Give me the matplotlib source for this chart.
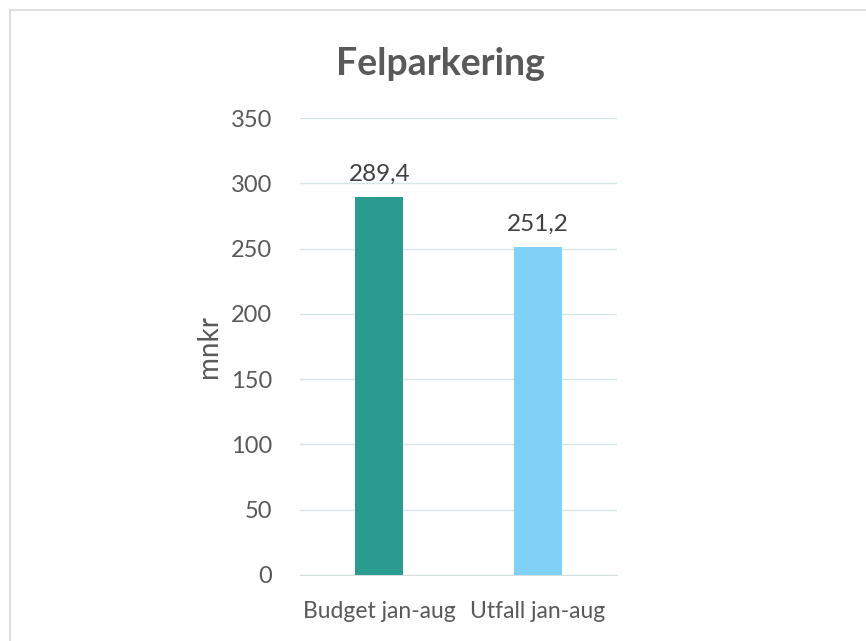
import matplotlib.pyplot as plt
from matplotlib.lines import Line2D

# chart data
categories = ['Budget jan-aug', 'Utfall jan-aug']
values = [289.4, 251.2]
value_labels = ['289,4', '251,2']
bar_colors = ['#2a9b8e', '#80d1f8']
yticks = [0, 50, 100, 150, 200, 250, 300, 350]

plt.rcParams['font.family'] = ['Lato', 'DejaVu Sans']
text_gray = '#595959'

fig = plt.figure(figsize=(8.66, 6.41), dpi=100)
ax = fig.add_axes([0.3464, 0.1030, 0.3661, 0.7129])

x = list(range(len(categories)))
ax.bar(x, values, width=0.30, color=bar_colors, zorder=3)

for xi, v, lab in zip(x, values, value_labels):
    ax.annotate(lab, (xi, v), xytext=(0, 9), textcoords='offset points',
                ha='center', va='bottom', fontsize=17.5, color='#404040')

ax.set_xlim(-0.5, 1.5)
ax.set_ylim(0, 350)
ax.set_yticks(yticks)
ax.set_yticklabels([str(t) for t in yticks])
ax.set_xticks(x)
ax.set_xticklabels(categories)
ax.tick_params(axis='both', length=0, colors=text_gray)
ax.tick_params(axis='y', pad=20, labelsize=17)
ax.tick_params(axis='x', pad=19, labelsize=16.5)

ax.grid(axis='y', color='#d6e6e8', linewidth=1, zorder=0)
for side in ['top', 'right', 'left']:
    ax.spines[side].set_visible(False)
ax.spines['bottom'].set_color('#d6dede')

ax.set_ylabel('mnkr', fontsize=20, color=text_gray, labelpad=6)

fig.text(0.509, 0.900, 'Felparkering', ha='center', va='center',
         fontsize=27, fontweight='bold', color=text_gray)

# outer chart frame (only top and left edges fall inside the image)
fig.add_artist(Line2D([0.0115, 0.0115], [0, 0.985], color='#d9d9d9', linewidth=1.2,
                      transform=fig.transFigure))
fig.add_artist(Line2D([0.0115, 1], [0.985, 0.985], color='#d9d9d9', linewidth=1.2,
                      transform=fig.transFigure))

fig.savefig('out.png', dpi=100)
